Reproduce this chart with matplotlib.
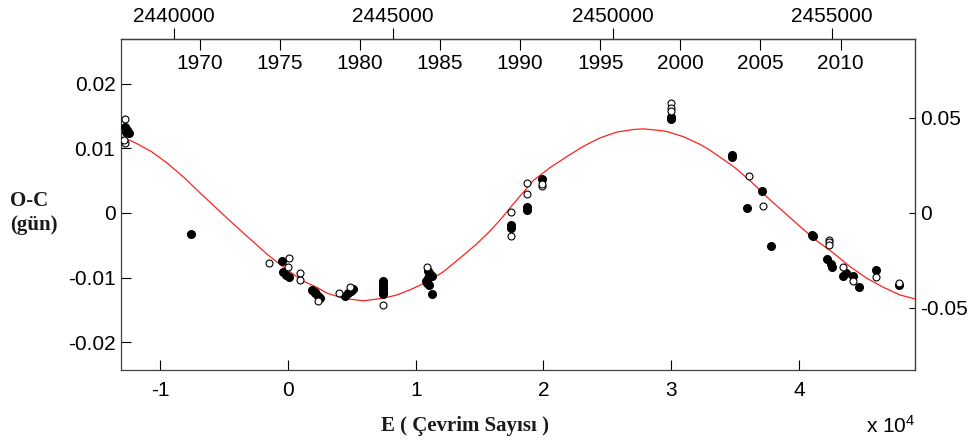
import matplotlib
matplotlib.use('Agg')
import matplotlib.pyplot as plt
from matplotlib.ticker import FuncFormatter

# cycle number E and O-C (days)
E_filled = [-12760, -12600, -12450, -12650, -7620,
            -450, -390, -160, 80,
            1880, 2110, 2350, 2500, 2090,
            4460, 4700, 4930, 5090,
            7410, 7410, 7410, 7410, 7410, 7410,
            10960, 11120, 10960, 10800, 11270, 11040, 11250, 10900,
            17460, 17460, 18680, 18680, 19910,
            29960, 29960, 34780, 34780,
            37130, 35950, 37780, 41120, 40990,
            42220, 42560, 42480, 43470, 43650, 44250, 44720, 46030, 47850]
OC_filled = [0.0133, 0.0128, 0.0123, 0.0125, -0.0033,
             -0.0074, -0.0091, -0.0096, -0.0099,
             -0.0119, -0.0124, -0.0128, -0.0131, -0.0122,
             -0.0128, -0.0124, -0.0121, -0.0117,
             -0.0106, -0.0110, -0.0114, -0.0118, -0.0122, -0.0126,
             -0.0090, -0.0094, -0.0100, -0.0105, -0.0097, -0.0111, -0.0126, -0.0108,
             -0.0019, -0.0024, 0.0009, 0.0005, 0.0052,
             0.0149, 0.0145, 0.0090, 0.0086,
             0.0034, 0.0007, -0.0051, -0.0036, -0.0034,
             -0.0071, -0.0083, -0.0079, -0.0097, -0.0093, -0.0097, -0.0114, -0.0088, -0.0111]

E_open = [-12760, -12760, -12800,
          -1490, 50, 0, 920, 920,
          2370, 4020, 4850, 7410, 10860,
          17460, 17460, 18680, 18680, 19910, 19910,
          29960, 29960, 29960,
          36090, 37160,
          42350, 42350, 42350,
          43420, 44250, 46030, 47850]
OC_open = [0.0146, 0.0108, 0.0112,
           -0.0078, -0.0069, -0.0083, -0.0093, -0.0104,
           -0.0137, -0.0124, -0.0115, -0.0142, -0.0083,
           0.0002, -0.0036, 0.0047, 0.0029, 0.0041, 0.0045,
           0.0170, 0.0163, 0.0157,
           0.0057, 0.0011,
           -0.0042, -0.0045, -0.0049,
           -0.0083, -0.0105, -0.0099, -0.0108]

# fitted curve, read at points along the red line
E_fit = [-13050, -12000, -10700, -9390, -8090, -6780, -5480, -4170, -2870, -1570,
         -260, 1040, 2350, 3030, 4330, 5890, 7460, 8510, 9550, 10860,
         12160, 13460, 14770, 15810, 16600, 17900, 19200, 20510, 21820, 23120,
         24420, 25730, 27030, 27810, 28860, 29640, 30940, 32250, 33030, 34860,
         36160, 37470, 38770, 40080, 41380, 42690, 43990, 45300, 46600, 47910,
         49080]
OC_fit = [0.0118, 0.0109, 0.0095, 0.0076, 0.0054, 0.0029, 0.0005, -0.0019, -0.0042, -0.0065,
          -0.0085, -0.0104, -0.0116, -0.0124, -0.0132, -0.0136, -0.0132, -0.0127, -0.0119, -0.0107,
          -0.0091, -0.0070, -0.0048, -0.0028, -0.0011, 0.0020, 0.0050, 0.0070, 0.0087, 0.0103,
          0.0116, 0.0125, 0.0129, 0.0130, 0.0128, 0.0126, 0.0118, 0.0106, 0.0097, 0.0072,
          0.0050, 0.0025, 0.0002, -0.0021, -0.0043, -0.0062, -0.0083, -0.0101, -0.0115, -0.0127,
          -0.0133]

x_ticks = [-10000, 0, 10000, 20000, 30000, 40000]
y_ticks = [-0.02, -0.01, 0, 0.01, 0.02]
right_ticks = [-0.05, 0, 0.05]
jd_ticks = [2440000, 2445000, 2450000, 2455000]
year_ticks = [1970, 1975, 1980, 1985, 1990, 1995, 2000, 2005, 2010]

T0 = 2442599.0
P = 0.29126
RSCALE = 3.405

plt.rcParams['font.family'] = ['Liberation Sans', 'DejaVu Sans']
plt.rcParams['font.size'] = 15
plt.rcParams['axes.unicode_minus'] = False
plt.rcParams['mathtext.default'] = 'regular'

fig = plt.figure(figsize=(9.71, 4.44), dpi=100)
ax = fig.add_axes([121/971, 74/444, 794/971, 331/444])

ax.plot(E_fit, OC_fit, color='#ff2020', lw=0.9, zorder=2)
ax.plot(E_filled, OC_filled, 'o', color='black', ms=5.5, zorder=3)
ax.plot(E_open, OC_open, 'o', mfc='white', mec='black', mew=0.8, ms=5, zorder=4)

ax.set_xlim(-13070, 49080)
ax.set_ylim(-0.0243, 0.0269)
ax.set_xticks(x_ticks)
ax.set_yticks(y_ticks)
ax.xaxis.set_major_formatter(FuncFormatter(lambda v, p: '%g' % (v / 1e4)))
ax.yaxis.set_major_formatter(FuncFormatter(lambda v, p: '%g' % round(v, 4)))
ax.tick_params(axis='x', direction='in', length=7, pad=8)
ax.tick_params(axis='y', direction='in', length=7, pad=4)
for s in ax.spines.values():
    s.set_color('#404040')
    s.set_linewidth(0.9)

# right axis
ry = ax.secondary_yaxis('right', functions=(lambda y: y * RSCALE, lambda y: y / RSCALE))
ry.set_yticks(right_ticks)
ry.yaxis.set_major_formatter(FuncFormatter(lambda v, p: '%g' % round(v, 4)))
ry.tick_params(direction='in', length=4, pad=4)

# top: JD axis and calendar years
def e2jd(e):
    return T0 + P * e

def jd2e(jd):
    return (jd - T0) / P

def e2yr(e):
    return 2000 + (T0 + P * e - 2451545.0) / 365.25

def yr2e(y):
    return ((y - 2000) * 365.25 + 2451545.0 - T0) / P

tj = ax.secondary_xaxis('top', functions=(e2jd, jd2e))
tj.set_xticks(jd_ticks)
tj.xaxis.set_major_formatter(FuncFormatter(lambda v, p: '%d' % round(v)))
tj.tick_params(direction='out', length=8, pad=1.5)

ty = ax.secondary_xaxis('top', functions=(e2yr, yr2e))
ty.set_xticks(year_ticks)
ty.xaxis.set_major_formatter(FuncFormatter(lambda v, p: '%d' % round(v)))
ty.tick_params(direction='in', length=8, pad=-24.5)

fig.text(10/971, 1 - 213/444, 'O-C\n(gün)', ha='left', va='center', family='Liberation Serif',
         fontweight='bold', fontsize=15, linespacing=1.25, color='#1a1a1a')
fig.text(465/971, 1 - 426/444, 'E ( Çevrim Sayısı )', ha='center', va='center',
         family='Liberation Serif', fontweight='bold', fontsize=15, color='#1a1a1a')
fig.text(915/971, 1 - 426/444, r'x 10$^4$', ha='right', va='center', fontsize=15)

fig.savefig('out.png', dpi=100)
